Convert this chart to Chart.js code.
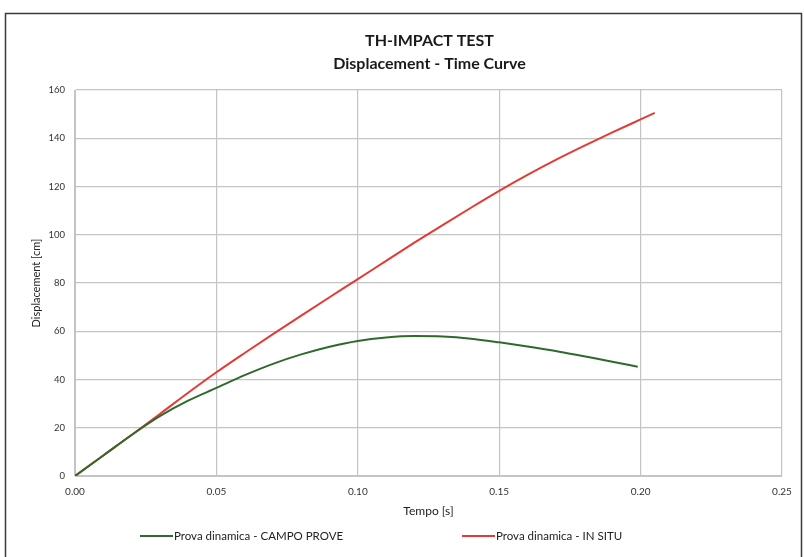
<!DOCTYPE html>
<html>
<head>
<meta charset="utf-8">
<script src="https://cdn.jsdelivr.net/npm/chart.js@4/dist/chart.umd.min.js"></script>
<style>
  html, body { margin: 0; padding: 0; background: #fff; }
  #wrap { width: 804px; height: 557px; position: relative; }
</style>
</head>
<body>
<div id="wrap"><canvas id="chart" width="804" height="557"></canvas></div>
<script>
const titleLines = ['TH-IMPACT TEST', 'Displacement - Time Curve']
const xTitle = 'Tempo [s]'
const yTitle = 'Displacement [cm]'

// time [s] / displacement [cm]
const campoTime = [0, 0.01, 0.02, 0.03, 0.04, 0.05, 0.06, 0.07, 0.08, 0.09, 0.10,
  0.11, 0.12, 0.13, 0.14, 0.15, 0.16, 0.17, 0.18, 0.19, 0.199]
const campoDisp = [0, 8.5, 17, 24.8, 31.2, 36.5, 41.8, 46.5, 50.4, 53.6, 56,
  57.4, 58, 57.8, 56.9, 55.4, 53.7, 51.8, 49.6, 47.4, 45.3]

const situTime = [0, 0.01, 0.02, 0.03, 0.04, 0.05, 0.06, 0.07, 0.08, 0.09, 0.10,
  0.11, 0.12, 0.13, 0.14, 0.15, 0.16, 0.17, 0.18, 0.19, 0.20, 0.205]
const situDisp = [0, 8.5, 17, 25.7, 34.5, 43, 51, 58.8, 66.5, 74.1, 81.6,
  89.2, 96.7, 104.0, 111.2, 118.2, 124.8, 131.0, 136.8, 142.4, 147.8, 150.5]

const xTicks = [0, 0.05, 0.10, 0.15, 0.20, 0.25]
const yTicks = [0, 20, 40, 60, 80, 100, 120, 140, 160]

function pairs(xs, ys) {
  return xs.map((x, i) => { return { x: x, y: ys[i] } })
}

const FONT = "Lato, 'Open Sans', sans-serif"

// frame, title and an Excel-like legend (wide gap between the two entries)
const decor = {
  id: 'decor',
  beforeDraw(chart) {
    const c = chart.ctx
    c.save()
    c.fillStyle = '#fff'
    c.fillRect(0, 0, chart.width, chart.height)
    c.strokeStyle = '#3a3a3a'
    c.lineWidth = 1.5
    c.strokeRect(5.5, 13.5, 796, 600)
    c.restore()
  },
  afterDraw(chart) {
    const c = chart.ctx
    const a = chart.chartArea
    const cx = (a.left + a.right) / 2 + 1
    c.save()
    c.fillStyle = '#1a1a1a'
    c.textAlign = 'center'
    c.textBaseline = 'middle'
    c.font = "bold 16px " + FONT
    c.fillText(titleLines[0], cx, 41)
    c.fillText(titleLines[1], cx, 64)

    const starts = [140, 462]
    const ly = 536
    c.font = "11.5px " + FONT
    c.textAlign = 'left'
    chart.data.datasets.forEach((ds, i) => {
      const x0 = starts[i]
      c.strokeStyle = ds.borderColor
      c.lineWidth = 2
      c.beginPath()
      c.moveTo(x0, ly)
      c.lineTo(x0 + 33, ly)
      c.stroke()
      c.fillStyle = '#222'
      c.fillText(ds.label, x0 + 34, ly)
    })
    c.restore()
  }
}

const ctx = document.getElementById('chart').getContext('2d')
new Chart(ctx, {
  type: 'line',
  data: {
    datasets: [
      {
        label: 'Prova dinamica - CAMPO PROVE',
        data: pairs(campoTime, campoDisp),
        borderColor: '#2f6a2c',
        backgroundColor: '#2f6a2c',
        borderWidth: 2,
        pointRadius: 0,
        cubicInterpolationMode: 'monotone'
      },
      {
        label: 'Prova dinamica - IN SITU',
        data: pairs(situTime, situDisp),
        borderColor: '#e53a34',
        backgroundColor: '#e53a34',
        borderWidth: 2,
        pointRadius: 0,
        cubicInterpolationMode: 'monotone'
      }
    ]
  },
  options: {
    responsive: false,
    animation: false,
    layout: { padding: { left: 30, right: 22, top: 90, bottom: 35 } },
    scales: {
      x: {
        type: 'linear',
        min: 0, max: 0.25,
        afterBuildTicks: s => { s.ticks = xTicks.map(v => ({ value: v })) },
        afterFit: s => { s.height = 46 },
        grid: { color: '#c4c4c4', lineWidth: 1.2, drawTicks: false },
        border: { color: '#c4c4c4' },
        ticks: {
          padding: 10,
          color: '#333',
          font: { family: FONT, size: 10 },
          callback: v => v.toFixed(2)
        },
        title: { display: true, text: xTitle, color: '#222', font: { family: FONT, size: 12 }, padding: { top: 3 } }
      },
      y: {
        min: 0, max: 160,
        afterBuildTicks: s => { s.ticks = yTicks.map(v => ({ value: v })) },
        afterFit: s => { s.width = 45 },
        grid: { color: '#c4c4c4', lineWidth: 1.2, drawTicks: false },
        border: { color: '#c4c4c4' },
        ticks: { padding: 10, color: '#333', font: { family: FONT, size: 9.5 } },
        title: { display: true, text: yTitle, color: '#222', font: { family: FONT, size: 11 }, padding: { top: 0, bottom: 4 } }
      }
    },
    plugins: {
      legend: { display: false },
      tooltip: { enabled: false }
    }
  },
  plugins: [decor]
})
</script>
</body>
</html>
